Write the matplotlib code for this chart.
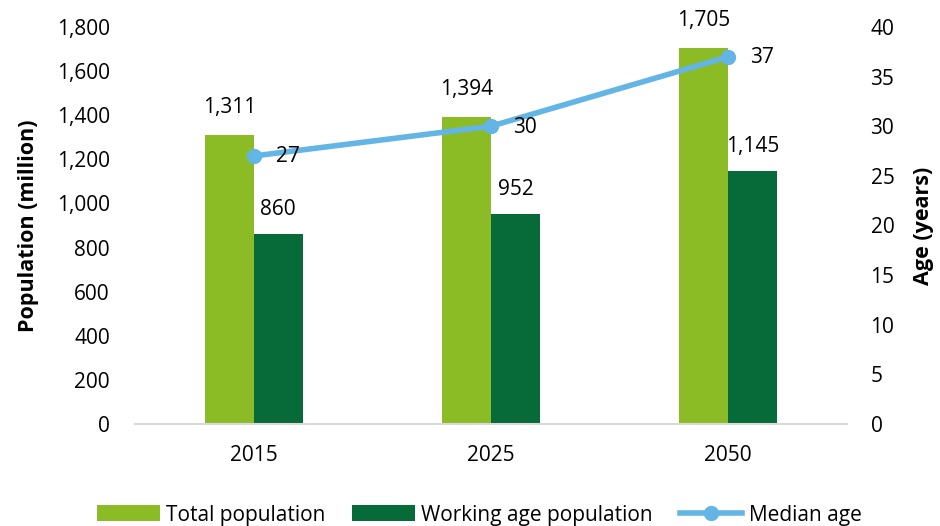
import matplotlib.pyplot as plt
import numpy as np

plt.rcParams['font.family'] = ['Open Sans', 'DejaVu Sans']

years = ["2015", "2025", "2050"]
total_pop = [1311, 1394, 1705]
working_pop = [860, 952, 1145]
median_age = [27, 30, 37]

light_green = "#8BBC26"
dark_green = "#066B38"
blue = "#62B5E5"

fig = plt.figure(figsize=(9.4, 5.26), dpi=100)
ax = fig.add_axes([0.1436, 0.194, 0.7574, 0.7547])
ax2 = ax.twinx()

x = np.arange(len(years))
w = 0.206
b1 = ax.bar(x - w / 2, total_pop, w, color=light_green, label="Total population")
b2 = ax.bar(x + w / 2, working_pop, w, color=dark_green, label="Working age population")

# Datenbeschriftungen ueber den Balken
for xi, v in zip(x, total_pop):
    ax.annotate(f"{v:,}", (xi - w / 2, v), xytext=(0, 27), textcoords="offset pixels",
                ha="center", va="center", fontsize=15)
for xi, v in zip(x, working_pop):
    ax.annotate(f"{v:,}", (xi + w / 2, v), xytext=(0, 25), textcoords="offset pixels",
                ha="center", va="center", fontsize=15)

ln, = ax2.plot(x, median_age, color=blue, lw=4, marker="o", ms=10, label="Median age")
for xi, v in zip(x, median_age):
    ax2.annotate(str(v), (xi, v), xytext=(22, -1), textcoords="offset pixels",
                 ha="left", va="center", fontsize=15)

ax.set_xlim(-0.5, 2.5)
ax.set_ylim(0, 1800)
ax.set_yticks(range(0, 1801, 200))
ax.set_yticklabels([f"{t:,}" for t in range(0, 1801, 200)])
ax2.set_ylim(0, 40)
ax2.set_yticks(range(0, 41, 5))
ax.set_xticks(x)
ax.set_xticklabels(years)

for a in (ax, ax2):
    for s in ("top", "left", "right"):
        a.spines[s].set_visible(False)
    a.tick_params(length=0, labelsize=15)
ax2.spines["bottom"].set_visible(False)
ax.spines["bottom"].set_color("#D9D9D9")
ax.spines["bottom"].set_linewidth(1.5)
ax.tick_params(axis="y", pad=18)
ax.tick_params(axis="x", pad=15)
ax2.tick_params(axis="y", pad=17)

ax.set_ylabel("Population (million)", fontsize=15.5, fontweight="bold", labelpad=13)
ax2.set_ylabel("Age (years)", fontsize=15.5, fontweight="bold", labelpad=13)

fig.legend(handles=[b1, b2, ln], loc="lower center", bbox_to_anchor=(0.51, -0.035), ncol=3,
           frameon=False, fontsize=15, handlelength=3.0, handleheight=0.8, columnspacing=1.3,
           handletextpad=0.3)

fig.savefig("out.png", dpi=100)
